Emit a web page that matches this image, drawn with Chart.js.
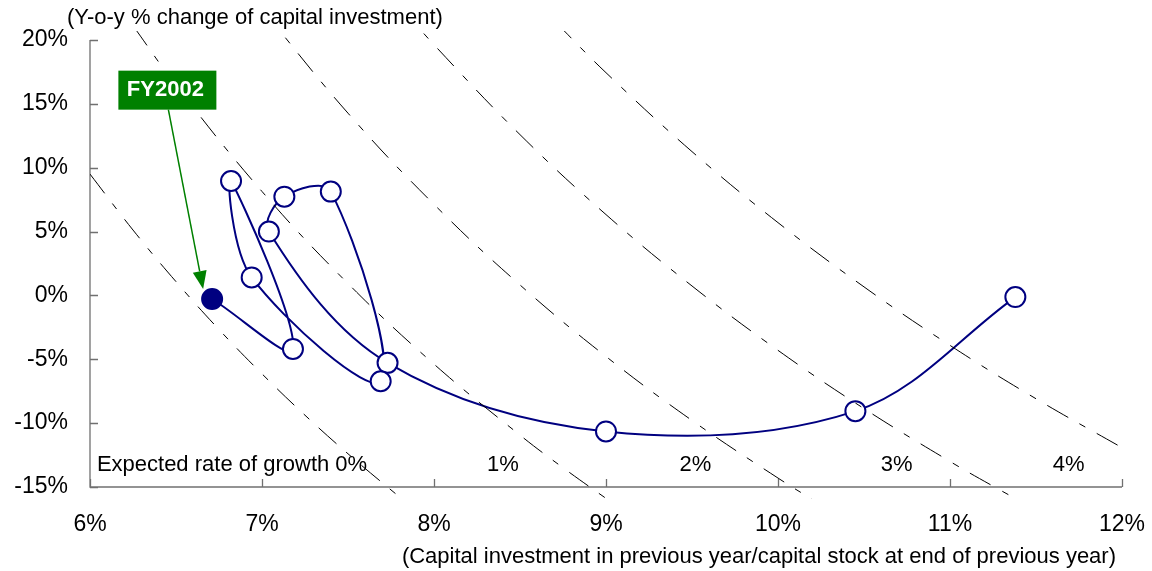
<!DOCTYPE html>
<html>
<head>
<meta charset="utf-8">
<script src="https://cdn.jsdelivr.net/npm/chart.js@4.4.0/dist/chart.umd.min.js"></script>
<style>
html, body { margin: 0; padding: 0; background: #fff; }
</style>
</head>
<body>
<canvas id="grafico1" width="1152" height="571"></canvas>
<script>
"use strict";

// path of capital investment, FY1991 -> FY2002 (last point is filled)
const fiscalYears = ["FY1991", "FY1992", "FY1993", "FY1994", "FY1995", "FY1996",
                     "FY1997", "FY1998", "FY1999", "FY2000", "FY2001", "FY2002"];
const investRatio = [11.38, 10.45, 9.00, 7.73, 7.04, 7.13, 7.40, 7.69, 6.94, 6.82, 7.18, 6.71];
const investGrowth = [-0.13, -9.06, -10.65, -5.28, 5.00, 7.73, 8.13, -6.72, 1.41, 8.96, -4.19, -0.28];

// expected growth rate lines
const growthLabels = ["Expected rate of growth 0%", "1%", "2%", "3%", "4%"];
const growthLabelX = [6.04, 8.40, 9.52, 10.69, 11.69];
const isoX0 = [6.00, 6.25, 6.50, 6.75, 7.00, 7.25, 7.50, 7.75, 7.90];
const isoY0 = [9.50, 5.12, 1.08, -2.67, -6.14, -9.38, -12.40, -15.23, -16.84];
const isoX1 = [6.25, 6.50, 7.00, 7.50, 8.00, 8.50, 8.75, 9.00, 9.10];
const isoY1 = [21.12, 16.46, 8.14, 0.93, -5.38, -10.94, -13.49, -15.89, -16.81];
const isoX2 = [7.00, 7.50, 8.00, 8.50, 9.00, 9.50, 10.00, 10.25];
const isoY2 = [22.43, 14.27, 7.13, 0.82, -4.78, -9.79, -14.30, -16.39];
const isoX3 = [7.80, 8.00, 8.50, 9.00, 9.50, 10.00, 10.50, 11.00, 11.25, 11.50];
const isoY3 = [22.69, 19.63, 12.59, 6.33, 0.74, -4.30, -8.86, -13.00, -14.93, -16.78];
const isoX4 = [8.70, 9.00, 9.50, 10.00, 10.50, 11.00, 11.50, 12.00];
const isoY4 = [21.49, 17.44, 11.26, 5.70, 0.67, -3.91, -8.09, -11.92];

const xTicks = [6, 7, 8, 9, 10, 11, 12];
const yTicks = [-15, -10, -5, 0, 5, 10, 15, 20];

const FONT = "'Liberation Sans', Arial, sans-serif";
const NAVY = "#000080";
const GREEN = "#008000";

function pts(xs, ys) {
	return xs.map((x, i) => ({ x: x, y: ys[i] }));
}

function isoSet(xs, ys) {
	return {
		data: pts(xs, ys),
		showLine: true,
		borderColor: "#000",
		borderWidth: 1,
		borderDash: [24, 13, 7, 13],
		pointRadius: 0,
		tension: 0.4,
		capBezierPoints: false,
		clip: { left: 0, top: 9, right: 2, bottom: 12 },
	};
}

const decor = {
	id: "decor",
	beforeDatasetsDraw(chart) {
		const c = chart.ctx;
		const xs = chart.scales.x, ys = chart.scales.y;
		const a = chart.chartArea;
		c.save();
		c.strokeStyle = "#707070";
		c.lineWidth = 1.3;
		c.beginPath();
		c.moveTo(a.left, a.top);
		c.lineTo(a.left, a.bottom);
		c.lineTo(a.right, a.bottom);
		yTicks.forEach(v => {
			const y = Math.round(ys.getPixelForValue(v)) + 0.5;
			c.moveTo(a.left, y);
			c.lineTo(a.left + 8, y);
		});
		xTicks.forEach(v => {
			const x = Math.round(xs.getPixelForValue(v)) + 0.5;
			c.moveTo(x, a.bottom);
			c.lineTo(x, a.bottom - 8);
		});
		c.stroke();
		c.restore();
	},
	afterDraw(chart) {
		const c = chart.ctx;
		const xs = chart.scales.x, ys = chart.scales.y;
		c.save();
		c.fillStyle = "#000";
		c.font = "22px " + FONT;
		c.textBaseline = "middle";
		// axis titles
		c.textAlign = "left";
		c.fillText("(Y-o-y % change of capital investment)", 67, 18);
		c.textAlign = "right";
		c.fillText("(Capital investment in previous year/capital stock at end of previous year)", 1116, 557);
		// growth line labels
		const ly = ys.getPixelForValue(-13.3);
		growthLabels.forEach((t, i) => {
			c.textAlign = i === 0 ? "left" : "center";
			c.fillText(t, xs.getPixelForValue(growthLabelX[i]), ly);
		});
		// FY2002 callout
		const bx = xs.getPixelForValue(6.165), by = ys.getPixelForValue(17.6);
		c.fillStyle = GREEN;
		c.fillRect(bx, by, 98, 39);
		c.fillStyle = "#fff";
		c.font = "bold 22px " + FONT;
		c.textAlign = "center";
		c.fillText("FY2002", bx + 47, by + 19);
		const n = investRatio.length - 1;
		const px = xs.getPixelForValue(investRatio[n]);
		const py = ys.getPixelForValue(investGrowth[n]);
		const sx = bx + 50, sy = by + 39;
		const tx = px - 9, ty = py - 10;
		const ang = Math.atan2(ty - sy, tx - sx);
		const hl = 18, hw = 7;
		const hx = tx - hl * Math.cos(ang), hy = ty - hl * Math.sin(ang);
		c.strokeStyle = GREEN;
		c.lineWidth = 1.5;
		c.beginPath();
		c.moveTo(sx, sy);
		c.lineTo(hx, hy);
		c.stroke();
		c.fillStyle = GREEN;
		c.beginPath();
		c.moveTo(tx, ty);
		c.lineTo(hx + hw * Math.sin(ang), hy - hw * Math.cos(ang));
		c.lineTo(hx - hw * Math.sin(ang), hy + hw * Math.cos(ang));
		c.closePath();
		c.fill();
		c.restore();
	},
};

const ctx = document.getElementById("grafico1");

const chart1 = new Chart(ctx, {
	type: "scatter",
	data: {
		datasets: [
			isoSet(isoX0, isoY0),
			isoSet(isoX1, isoY1),
			isoSet(isoX2, isoY2),
			isoSet(isoX3, isoY3),
			isoSet(isoX4, isoY4),
			{
				label: "Capital investment",
				data: pts(investRatio, investGrowth),
				showLine: true,
				borderColor: NAVY,
				borderWidth: 2,
				tension: 0.35,
				pointRadius: 10,
				pointBorderWidth: 2,
				pointBorderColor: NAVY,
				pointBackgroundColor: investRatio.map((v, i) => i === investRatio.length - 1 ? NAVY : "#fff"),
			},
		],
	},
	options: {
		responsive: false,
		animation: false,
		devicePixelRatio: 1,
		layout: { padding: { left: 0, right: 30, top: 40, bottom: 0 } },
		plugins: { legend: { display: false }, tooltip: { enabled: false } },
		scales: {
			x: {
				type: "linear",
				min: 6,
				max: 12,
				grid: { display: false, drawTicks: false },
				border: { display: false },
				afterFit: s => { s.height = 84; s.paddingLeft = 0; s.paddingRight = 0; },
				ticks: {
					stepSize: 1,
					padding: 24,
					color: "#000",
					font: { family: FONT, size: 23 },
					callback: v => v + "%",
				},
			},
			y: {
				min: -15,
				max: 20,
				grid: { display: false, drawTicks: false },
				border: { display: false },
				afterFit: s => { s.width = 90; s.paddingTop = 0; s.paddingBottom = 0; },
				ticks: {
					stepSize: 5,
					padding: 22,
					color: "#000",
					font: { family: FONT, size: 23 },
					callback: v => v + "%",
				},
			},
		},
	},
	plugins: [decor],
});
</script>
</body>
</html>
